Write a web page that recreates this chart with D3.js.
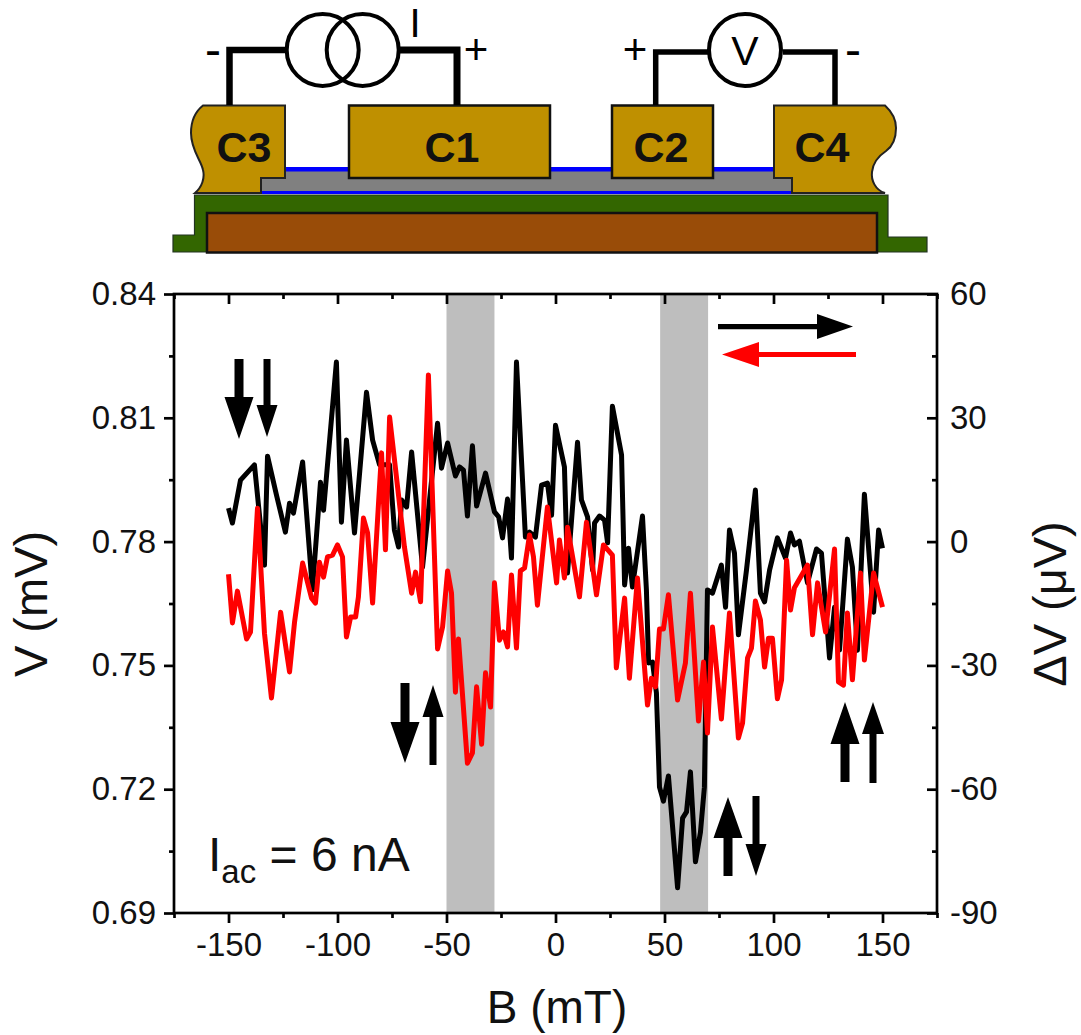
<!DOCTYPE html>
<html>
<head>
<meta charset="utf-8">
<script src="https://cdn.jsdelivr.net/npm/d3@7"></script>
<style>
body{margin:0;background:#fff}
text{font-family:"Liberation Sans",Arial,sans-serif}
</style>
</head>
<body>
<svg id="fig" width="1081" height="1035"></svg>
<script>
// up sweep (black)
const b_up = [-150,-148.2,-144.5,-138.1,-133.5,-132.1,-128,-123.9,-122,-120.2,-116,-111.5,-107.8,-106.4,-100.5,-98.2,-95.9,-92.2,-86.7,-83.9,-80.7,-76.1,-73.9,-72,-70.6,-68.3,-66,-61,-54.1,-52.3,-49.5,-45.9,-44,-42.2,-40.4,-38.1,-36.2,-32.1,-28,-26.1,-24.3,-22,-20.2,-17.9,-13.8,-11.9,-9.2,-6.4,-3.7,-1.8,0,4.1,5.5,10.1,11.9,14.7,17,17.9,20.2,22.5,23.9,26.1,30.3,31.7,33.5,35.3,39.9,41.7,42.7,44.5,46.3,47.7,49.5,51.8,56,58.3,60.1,61.9,64.2,66.5,68.3,69.7,72,76.1,78,79.8,82.1,83.9,87.6,91.7,94,95.9,98.2,101.8,105.5,107.8,109.6,111.9,115.6,119.7,122,125.7,128,130.3,133.9,136.2,138.5,141.7,145.9,148.2,150]
const v_up = [.7881,.7845,.7949,.7986,.7743,.8007,.7913,.7823,.7893,.7869,.7993,.7683,.7944,.7876,.8235,.7847,.8046,.7821,.8162,.8046,.7986,.7986,.7828,.7787,.7901,.7884,.8017,.7738,.8087,.7978,.8039,.7959,.7981,.7973,.7862,.8032,.7886,.7966,.7872,.7860,.7809,.7903,.7760,.8235,.7811,.7823,.7811,.7937,.7942,.7864,.8082,.7981,.7724,.8041,.7901,.7860,.7731,.7845,.7862,.7852,.7797,.8128,.8010,.7695,.7784,.7690,.7862,.7683,.7506,.7508,.7433,.7205,.7171,.7232,.6961,.7130,.7145,.7242,.7024,.7096,.7205,.7683,.7675,.7743,.7641,.7828,.7772,.7574,.7731,.7925,.7675,.7654,.7731,.7809,.7760,.7821,.7792,.7801,.7700,.7782,.7772,.7518,.7641,.7537,.7806,.7738,.7537,.7915,.7629,.7828,.7784]

// down sweep (red)
const b_down = [-150,-148.2,-145.9,-141.7,-139.9,-136.7,-133.5,-130.3,-126.1,-122,-119.7,-116,-111.9,-110.1,-108.3,-106.4,-104.6,-102.3,-100,-97.7,-95.9,-94,-91.7,-90.4,-88.1,-86.2,-83.9,-79.8,-78,-76.1,-69.3,-66,-64.2,-61.9,-58.3,-54.1,-51.8,-49.5,-47.7,-45.9,-44.5,-40.4,-38.1,-36.2,-33.9,-32.1,-29.8,-28,-25.7,-23.9,-22,-20.2,-17.9,-16.1,-14.2,-11.9,-10.1,-8.3,-3.7,0.5,1.8,4.1,5.5,11,14.2,18.8,22,26.1,27.9,31.7,33.9,37.6,42.2,44,45.9,47.7,49.5,51.8,56,59.6,61.9,65.6,67.9,69.7,72,76.1,79.8,83.9,85.8,88.1,89.9,91.7,94,95.9,97.7,99.5,101.8,103.7,106,107.8,109.6,115.6,117.9,120.2,123.9,128,129.8,132.1,133.9,136.2,139.9,141.7,145.9,150]
const v_down = [.7721,.7603,.7680,.7564,.7581,.7881,.7578,.7421,.7629,.7484,.7605,.7748,.7663,.7651,.7750,.7714,.7763,.7767,.7792,.7763,.7569,.7617,.7617,.7666,.7857,.7821,.7651,.8015,.7780,.8102,.7787,.7675,.7726,.7654,.8204,.7540,.7593,.7729,.7675,.7435,.7564,.7263,.7288,.7448,.7309,.7482,.7399,.7700,.7561,.7581,.7545,.7719,.7542,.7729,.7736,.7816,.7763,.7646,.7884,.7700,.7804,.7712,.7835,.7666,.7847,.7671,.7792,.7767,.7494,.7663,.7469,.7712,.7404,.7469,.7448,.7588,.7588,.7671,.7416,.7506,.7675,.7365,.7508,.7336,.7593,.7370,.7627,.7324,.7360,.7518,.7542,.7656,.7610,.7496,.7566,.7566,.7419,.7465,.7755,.7634,.7688,.7743,.7574,.7700,.7581,.7782,.7460,.7452,.7627,.7465,.7724,.7513,.7724,.7641]

const xMajor = [-150,-100,-50,0,50,100,150]
const xMinor = [-175,-125,-75,-25,25,75,125,175]
const yMajor = [0.69,0.72,0.75,0.78,0.81,0.84]
const yMinor = [0.705,0.735,0.765,0.795,0.825]
const dvMajor = [-90,-60,-30,0,30,60]
const dvMinor = [-75,-45,-15,15,45]
const bands = [[-50,-28],[48,70]]

const svg = d3.select("#fig")

// ---- device sketch ----
const sk = svg.append("g").attr("id","sketch")
const gold = "#bf9000"

sk.append("path").attr("d","M173,235H194.500V195H888V237H927V252H173Z").attr("fill","#336600").attr("stroke","#223322").attr("stroke-width",1.2)
sk.append("rect").attr("x",207).attr("y",213).attr("width",670).attr("height",39.500).attr("fill","#994c08").attr("stroke","#111").attr("stroke-width",2.5)
sk.append("rect").attr("x",255).attr("y",167).attr("width",540).attr("height",27).attr("fill","#0000ff")
sk.append("rect").attr("x",255).attr("y",171.500).attr("width",540).attr("height",19.500).attr("fill","#808080")
sk.append("path").attr("d","M285,105.500V178H261V193H195C202,187 205,178 203,170C201,160 191,150 191,133C191,120 196,111 203,105.500Z")
  .attr("fill",gold).attr("stroke","#222").attr("stroke-width",2)
sk.append("path").attr("d","M774,105.500V178H792V193H885C875,190 871,180 872,172C873,162 880,155 886,151C893,146 896,138 896,128C896,118 891,111 885,105.500Z")
  .attr("fill",gold).attr("stroke","#222").attr("stroke-width",2)
sk.append("rect").attr("x",349).attr("y",105.500).attr("width",201).attr("height",72.500).attr("fill",gold).attr("stroke","#111").attr("stroke-width",2.500)
sk.append("rect").attr("x",612).attr("y",105.500).attr("width",101).attr("height",72.500).attr("fill",gold).attr("stroke","#111").attr("stroke-width",2.500)

const wires = [
  ["M229.500,105V50H288",6.500],
  ["M398,50H457V105",7],
  ["M655.700,105V52H708",5.500],
  ["M783,52H835V105",5.500]
]
wires.forEach(function(w){
  sk.append("path").attr("d",w[0]).attr("fill","none").attr("stroke","#000").attr("stroke-width",w[1])
})
sk.selectAll(".coil").data([[322.700,50],[362.700,50]]).join("circle").attr("class","coil")
  .attr("cx",d=>d[0]).attr("cy",d=>d[1]).attr("r",36).attr("fill","none").attr("stroke","#000").attr("stroke-width",4)
sk.append("circle").attr("cx",745).attr("cy",50).attr("r",36).attr("fill","#fff").attr("stroke","#000").attr("stroke-width",4)

const boxLabels = [["C3",244],["C1",452],["C2",661],["C4",822]]
sk.selectAll(".clabel").data(boxLabels).join("text").attr("class","clabel")
  .attr("x",d=>d[1]).attr("y",162).attr("text-anchor","middle").attr("font-size",43).attr("font-weight","bold").attr("fill","#111").text(d=>d[0])
const signs = [["I",415,37,40],["+",476,64,42],["-",213,66,48],["+",635,64,42],["-",853,66,48],["V",745,65,41]]
sk.selectAll(".sign").data(signs).join("text").attr("class","sign")
  .attr("x",d=>d[1]).attr("y",d=>d[2]).attr("text-anchor","middle").attr("font-size",d=>d[3]).attr("fill","#000").text(d=>d[0])

// ---- plot ----
const x = d3.scaleLinear().domain([-175,175]).range([174,937])
const y = d3.scaleLinear().domain([0.69,0.84]).range([913,294])
const yRight = d3.scaleLinear().domain([-90,60]).range([913,294])

svg.selectAll(".band").data(bands).join("rect").attr("class","band")
  .attr("x",d=>x(d[0])).attr("width",d=>x(d[1])-x(d[0]))
  .attr("y",y(0.84)).attr("height",y(0.69)-y(0.84)).attr("fill","#bebebe")

const line = d3.line().x(d=>x(d[0])).y(d=>y(d[1]))
svg.append("path").attr("d",line(d3.zip(b_up,v_up))).attr("fill","none").attr("stroke","#000").attr("stroke-width",5).attr("stroke-linejoin","round")
svg.append("path").attr("d",line(d3.zip(b_down,v_down))).attr("fill","none").attr("stroke","#ff0000").attr("stroke-width",5).attr("stroke-linejoin","round")

// frame
svg.append("rect").attr("x",174).attr("y",294).attr("width",763).attr("height",619).attr("fill","none").attr("stroke","#000").attr("stroke-width",2.700)

function styleAxis(g){
  g.select(".domain").remove()
  g.selectAll("line").attr("stroke","#000").attr("stroke-width",2.700)
  g.selectAll("text").attr("font-size",33).attr("fill","#111")
}
const plain = d => String(d)
const fmt = d3.format(".2f")
svg.append("g").attr("transform","translate(0,913)").call(d3.axisBottom(x).tickValues(xMajor).tickSize(10).tickPadding(10).tickFormat(plain)).call(styleAxis)
svg.append("g").attr("transform","translate(0,913)").call(d3.axisBottom(x).tickValues(xMinor).tickSize(5).tickFormat("")).call(styleAxis)
svg.append("g").attr("transform","translate(174,0)").call(d3.axisLeft(y).tickValues(yMajor).tickSize(10).tickPadding(8).tickFormat(fmt)).call(styleAxis)
svg.append("g").attr("transform","translate(174,0)").call(d3.axisLeft(y).tickValues(yMinor).tickSize(5).tickFormat("")).call(styleAxis)
// top and right ticks point inwards
svg.append("g").attr("transform","translate(0,294)").call(d3.axisBottom(x).tickValues(xMajor).tickSize(10).tickFormat("")).call(styleAxis)
svg.append("g").attr("transform","translate(0,294)").call(d3.axisBottom(x).tickValues(xMinor).tickSize(5).tickFormat("")).call(styleAxis)
svg.append("g").attr("transform","translate(937,0)").call(d3.axisLeft(yRight).tickValues(dvMajor).tickSize(10).tickFormat("")).call(styleAxis)
svg.append("g").attr("transform","translate(937,0)").call(d3.axisLeft(yRight).tickValues(dvMinor).tickSize(5).tickFormat("")).call(styleAxis)
svg.append("g").attr("transform","translate(937,0)").call(d3.axisRight(yRight).tickValues(dvMajor).tickSize(0).tickPadding(13).tickFormat(plain)).call(styleAxis)

svg.append("text").attr("x",557).attr("y",1023).attr("text-anchor","middle").attr("font-size",46).attr("fill","#111").text("B (mT)")
svg.append("text").attr("transform","translate(47,604) rotate(-90)").attr("text-anchor","middle").attr("font-size",47).attr("fill","#111").text("V (mV)")
svg.append("text").attr("transform","translate(1066,604) rotate(-90)").attr("text-anchor","middle").attr("font-size",47).attr("fill","#111").text("ΔV (μV)")

const note = svg.append("text").attr("x",208).attr("y",871).attr("font-size",48).attr("fill","#111")
note.append("tspan").text("I")
note.append("tspan").attr("dy",12).attr("font-size",33).text("ac")
note.append("tspan").attr("dy",-12).text(" = 6 nA")

// spin arrows: centre x, tail y, tip y, shaft width, head width, head length
const spinArrows = [
  [239,359,439,9,29,42],[267,359,437,7,21,32],
  [405,683,763,9,29,41],[433,765,685,7,21,32],
  [728,876,797,9,29,41],[756,796,876,7,21,32],
  [845,782,702,9,29,42],[873,783,702,7,22,32]
]
svg.selectAll(".spin").data(spinArrows).join("path").attr("class","spin").attr("fill","#000")
  .attr("d",function(a){
    const dir = a[2]>a[1] ? 1 : -1
    const base = a[2]-dir*a[5]
    return "M"+(a[0]-a[3]/2)+","+a[1]+"V"+base+"H"+(a[0]-a[4]/2)+"L"+a[0]+","+a[2]+"L"+(a[0]+a[4]/2)+","+base+"H"+(a[0]+a[3]/2)+"V"+a[1]+"Z"
  })

// sweep direction arrows
svg.append("path").attr("d","M718,324H817V314L853,326.500L817,339V329.300H718Z").attr("fill","#000")
svg.append("path").attr("d","M856,352H759V342L722,354.500L759,367V357H856Z").attr("fill","#ff0000")
</script>
</body>
</html>
